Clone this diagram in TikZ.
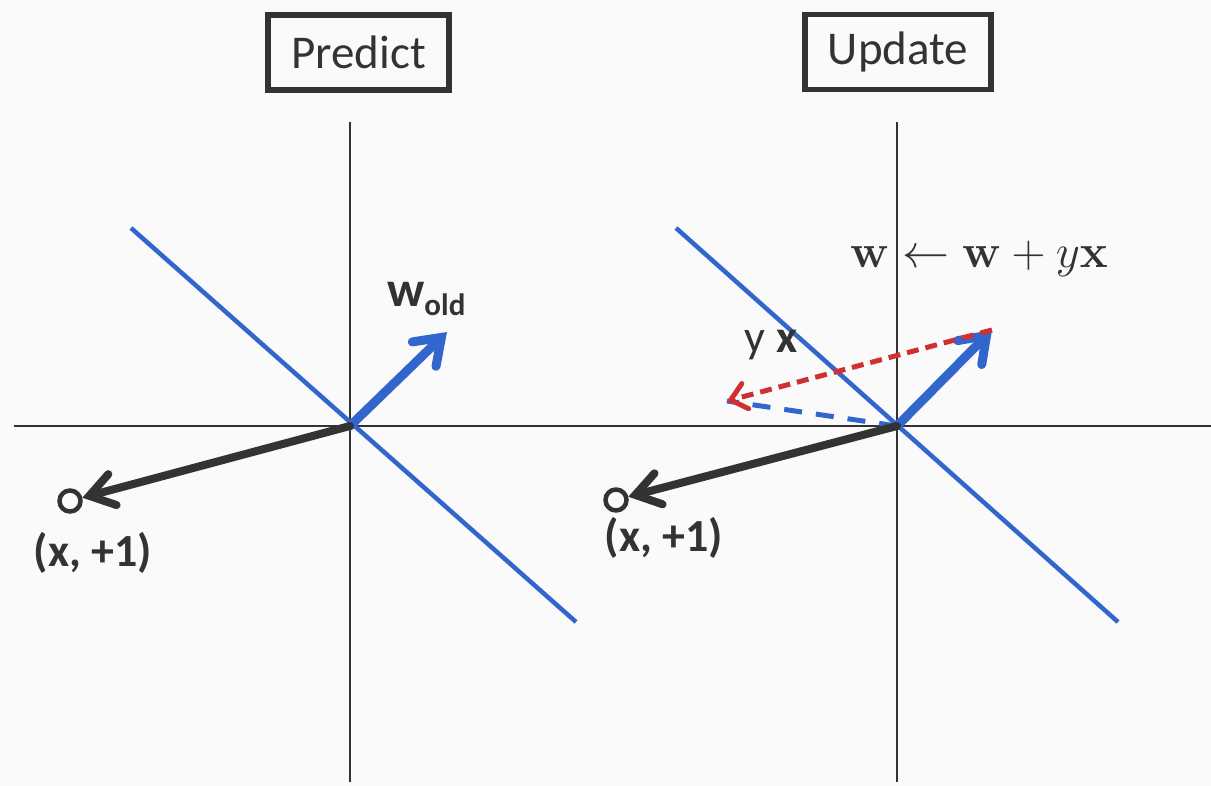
\RequirePackage{fix-cm}
\documentclass[tikz,border=0pt]{standalone}
\usepackage[no-math]{fontspec}
\setmainfont{Carlito}
\usetikzlibrary{arrows.meta}
\definecolor{bluev}{RGB}{51,102,204}
\definecolor{redv}{RGB}{208,48,48}
\definecolor{darkv}{RGB}{51,51,51}
\definecolor{bgv}{RGB}{250,250,250}
\begin{document}
\begin{tikzpicture}[x=1pt,y=-1pt,
  axis/.style={draw=darkv, line width=2pt},
  sep/.style={draw=bluev, line width=4.5pt},
  wvec/.style={draw=bluev, line width=9pt, line cap=round, -{Straight Barb[length=24pt,width=34pt,line cap=round]}},
  xvec/.style={draw=darkv, line width=8pt, line cap=round, -{Straight Barb[length=24pt,width=32pt,line cap=round]}},
  yxvec/.style={draw=redv, line width=5pt, dash pattern=on 12pt off 7pt, -{Straight Barb[length=15pt,width=26pt,line cap=round]}},
  proj/.style={draw=bluev, line width=5pt, dash pattern=on 18pt off 14pt},
  ptc/.style={circle, draw=darkv, line width=4.5pt, fill=bgv, minimum size=21pt, inner sep=0pt},
  titlebox/.style={draw=darkv, line width=5.5pt, minimum height=75pt, text=darkv, font=\fontsize{47}{49}\selectfont},
  lbl/.style={text=darkv, font=\bfseries\fontsize{46}{48}\selectfont},
  plain/.style={text=darkv, font=\fontsize{46}{48}\selectfont}
]
\fill[bgv] (0,0) rectangle (1211,786);
\useasboundingbox (0,0) rectangle (1211,786);

% titles
\node[titlebox, minimum width=181pt] (predict) at (358.5,52.5) {Predict};
\node[titlebox, minimum width=186pt] (update) at (898,52) {Update};

% axes
\coordinate (hl) at (14,426);
\coordinate (hr) at (1211,426);
\coordinate (v1t) at (350,122);
\coordinate (v1b) at (350,782);
\coordinate (v2t) at (897,122);
\coordinate (v2b) at (897,782);
\draw[axis] (hl) -- (hr);
\draw[axis] (v1t) -- (v1b);
\draw[axis] (v2t) -- (v2b);

% origins and points
\coordinate (o1) at (350,426);
\coordinate (o2) at (897,426);
\coordinate (s1a) at (131,228);
\coordinate (s1b) at (576,622);
\coordinate (s2a) at (676,228);
\coordinate (s2b) at (1118,622);
\coordinate (w1) at (447,332);
\coordinate (w2) at (992,330);
\coordinate (yx) at (727,401);

% separators
\draw[sep] (s1a) -- (s1b);
\draw[sep] (s2a) -- (s2b);

% left panel
\node[ptc] (p1) at (70,501) {};
\draw[wvec] (o1) -- (w1);
\draw[xvec] (o1) -- (p1);
\node[lbl, anchor=base west, inner sep=0pt] (wold) at (387,307) {\fontsize{50}{52}\selectfont w\raisebox{-9pt}{\fontsize{31}{33}\selectfont old}};
\node[lbl, inner sep=0pt] (lab1) at (93,553) {(x, +1)};

% right panel
\draw[proj] (o2) -- (yx);
\node[ptc] (p2) at (616,500) {};
\draw[wvec] (o2) -- (w2);
\draw[yxvec] (w2) -- (yx);
\draw[xvec] (o2) -- (p2);
\node[plain, inner sep=0pt] (yxl) at (771,345) {y \textbf{x}};
\node[lbl, inner sep=0pt] (lab2) at (664,538) {(x, +1)};
\node[text=darkv, anchor=base, inner sep=0pt, font=\fontsize{47}{50}\selectfont] (rule) at (979,268) {$\mathbf{w}\leftarrow\mathbf{w}+y\mathbf{x}$};
\end{tikzpicture}
\end{document}
